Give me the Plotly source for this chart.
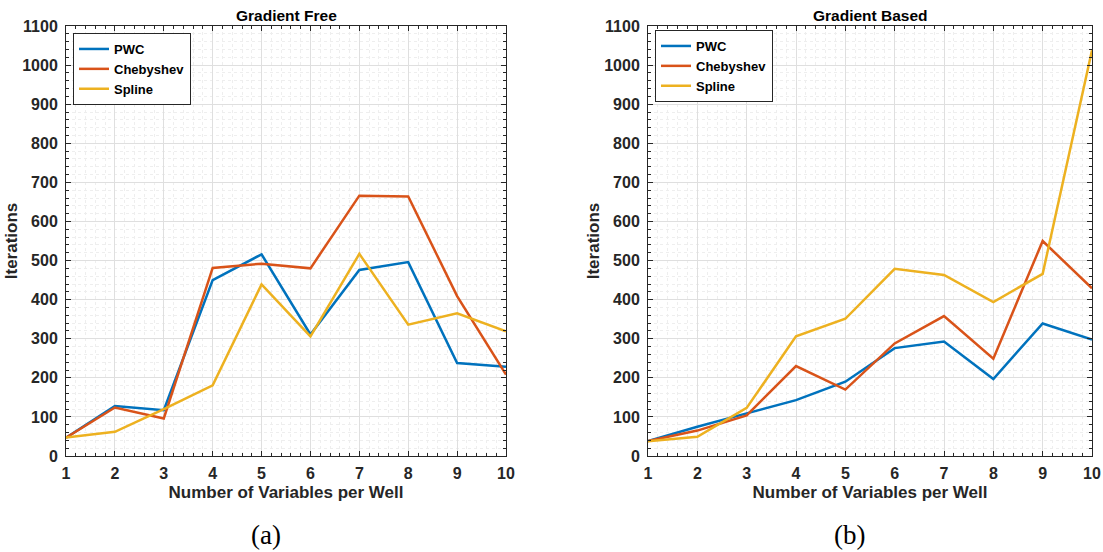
import plotly.graph_objects as go

variables = [1, 2, 3, 4, 5, 6, 7, 8, 9, 10]
series_names = ["PWC", "Chebyshev", "Spline"]

free_pwc = [47, 128, 117, 450, 516, 311, 476, 496, 238, 228]
free_cheb = [47, 124, 96, 481, 492, 480, 666, 664, 409, 208]
free_spline = [47, 62, 120, 181, 439, 306, 517, 336, 365, 319]

based_pwc = [38, 75, 109, 143, 190, 276, 293, 197, 339, 298]
based_cheb = [38, 65, 104, 230, 170, 288, 358, 249, 550, 429]
based_spline = [38, 49, 123, 306, 351, 479, 463, 394, 466, 1038]

y_ticks = list(range(0, 1101, 100))
titles = ["Gradient Free", "Gradient Based"]
captions = ["(a)", "(b)"]

colors = ["#0072BD", "#D95319", "#EDB120"]

fig = go.Figure()

W, H = 1103, 552
left_dom = [66 / W, 506 / W]
right_dom = [648 / W, 1092 / W]
y_dom = [(H - 456) / H, (H - 26) / H]

for i, (name, ys) in enumerate(zip(series_names, [free_pwc, free_cheb, free_spline])):
    fig.add_trace(go.Scatter(x=variables, y=ys, mode="lines", name=name,
                             line=dict(color=colors[i], width=2.5),
                             xaxis="x", yaxis="y", legend="legend"))
for i, (name, ys) in enumerate(zip(series_names, [based_pwc, based_cheb, based_spline])):
    fig.add_trace(go.Scatter(x=variables, y=ys, mode="lines", name=name,
                             line=dict(color=colors[i], width=2.5),
                             xaxis="x2", yaxis="y2", legend="legend2"))

FONT = "Liberation Sans, Arial"
tick_font = dict(family=FONT, size=16, color="#262626", weight="bold")
title_font = dict(family=FONT, size=17, color="#262626", weight="bold")

def xaxis(dom, anchor):
    return dict(domain=dom, anchor=anchor, range=[1, 10], tickmode="array",
                tickvals=variables, ticktext=["<b>%d</b>" % v for v in variables],
                automargin=False,
                showline=True, linecolor="#262626", linewidth=1, mirror="ticks",
                ticks="inside", ticklen=5, tickcolor="#262626", ticklabelstandoff=3,
                showgrid=True, gridcolor="#dfdfdf", gridwidth=1,
                zeroline=False, tickfont=tick_font,
                title=dict(text="<b>Number of Variables per Well</b>", font=title_font, standoff=4),
                minor=dict(dtick=0.2, tick0=1, showgrid=True, gridcolor="#eeeeee",
                           griddash="dot", ticks="inside", ticklen=3, tickcolor="#262626"))

def yaxis(anchor):
    return dict(domain=y_dom, anchor=anchor, range=[0, 1100], tickmode="array",
                tickvals=y_ticks, ticktext=["<b>%d</b>" % v for v in y_ticks],
                automargin=False,
                showline=True, linecolor="#262626", linewidth=1, mirror="ticks",
                ticks="inside", ticklen=5, tickcolor="#262626", ticklabelstandoff=4,
                showgrid=True, gridcolor="#dfdfdf", gridwidth=1,
                zeroline=False, tickfont=tick_font,
                title=dict(text="<b>Iterations</b>", font=title_font, standoff=0),
                minor=dict(dtick=20, tick0=0, showgrid=True, gridcolor="#eeeeee",
                           griddash="dot", ticks="inside", ticklen=3, tickcolor="#262626"))

legend_style = dict(bgcolor="white", bordercolor="#262626", borderwidth=1,
                    font=dict(family=FONT, size=13, color="black", weight="bold"),
                    xanchor="left", yanchor="top", tracegroupgap=0, itemwidth=30)

annotations = []
for dom, t, c in [(left_dom, titles[0], captions[0]), (right_dom, titles[1], captions[1])]:
    cx = (dom[0] + dom[1]) / 2
    annotations.append(dict(text="<b>%s</b>" % t, x=cx, y=(H - 15) / H, xref="paper", yref="paper",
                            showarrow=False, xanchor="center", yanchor="middle",
                            font=dict(family=FONT, size=15.5, color="black", weight="bold")))
    annotations.append(dict(text=c, x=cx - 20 / W, y=(H - 535) / H, xref="paper", yref="paper",
                            showarrow=False, xanchor="center", yanchor="middle",
                            font=dict(family="Liberation Serif, Times New Roman", size=27, color="black")))

fig.update_layout(
    width=W, height=H,
    margin=dict(l=0, r=0, t=0, b=0, autoexpand=False),
    paper_bgcolor="white", plot_bgcolor="white",
    xaxis=xaxis(left_dom, "y"), yaxis=yaxis("x"),
    xaxis2=xaxis(right_dom, "y2"), yaxis2=yaxis("x2"),
    legend=dict(x=73 / W, y=(H - 33) / H, **legend_style),
    legend2=dict(x=655 / W, y=(H - 30) / H, **legend_style),
    annotations=annotations,
    showlegend=True,
)

fig.write_html("out.html")
